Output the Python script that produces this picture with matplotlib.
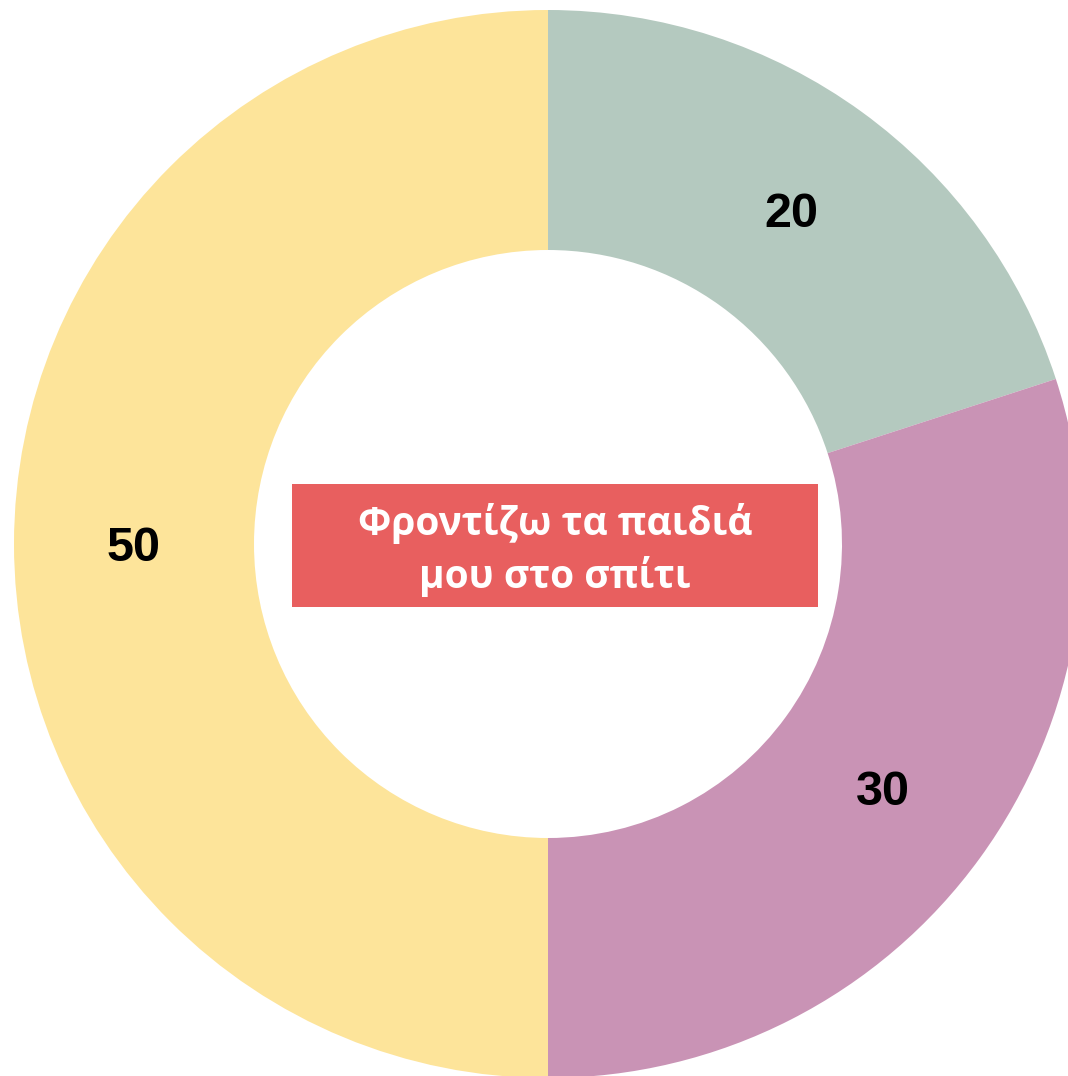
import matplotlib.pyplot as plt
from matplotlib.patches import Rectangle

values = [20, 30, 50]
labels = ['20', '30', '50']
colors = ['#B4C9BF', '#C993B5', '#FDE49A']
center_text = 'Φροντίζω τα παιδιά\nμου στο σπίτι'

W, H = 1068, 1076
CX, CY = 548, H - 544
R_OUT = 534
R_IN = 294

fig = plt.figure(figsize=(W / 100, H / 100), dpi=100)
ax = fig.add_axes([0, 0, 1, 1])

wedges, texts = ax.pie(values, colors=colors, startangle=90, counterclock=False,
                       center=(CX, CY), radius=R_OUT,
                       labels=labels, labeldistance=(R_OUT + R_IN) / 2 / R_OUT,
                       wedgeprops=dict(width=R_OUT - R_IN, linewidth=0),
                       textprops=dict(fontsize=35, fontweight='bold', color='black',
                                      family='Liberation Sans', ha='center', va='center_baseline'))

ax.add_patch(Rectangle((292, H - 607), 526, 123, facecolor='#E85F5F', edgecolor='none', zorder=3))
ax.text(555, H - 550, center_text, ha='center', va='center', color='white', fontsize=28,
        fontweight='bold', family=['Open Sans', 'DejaVu Sans'], linespacing=1.4, zorder=4)

ax.set_xlim(0, W)
ax.set_ylim(0, H)
ax.set_aspect('auto')
ax.axis('off')

fig.savefig('out.png', dpi=100, facecolor='white')
